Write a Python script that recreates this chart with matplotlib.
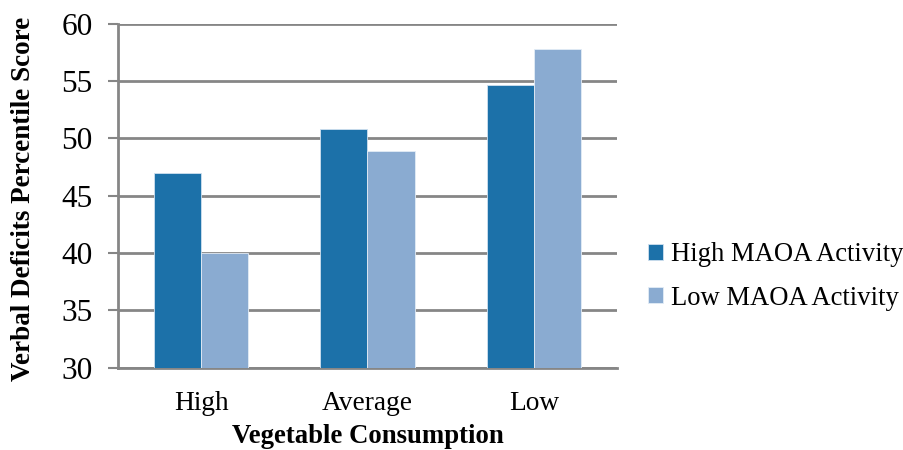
import numpy as np
import matplotlib
matplotlib.use("Agg")
import matplotlib.pyplot as plt

# Verbal deficit scores by vegetable intake and MAOA activity group
categories = ["High", "Average", "Low"]
high_maoa = [47.0, 50.8, 54.7]
low_maoa = [40.0, 48.9, 57.8]
series_names = ["High MAOA Activity", "Low MAOA Activity"]
yticks = [30, 35, 40, 45, 50, 55, 60]

plt.rcParams['font.family'] = ['Liberation Serif', 'DejaVu Serif']

dark_blue = '#1c71a9'
light_blue = '#8aabd1'
grid_gray = '#868686'

fig = plt.figure(figsize=(9.04, 4.5), dpi=100)
ax = fig.add_axes([0.1305, 0.1833, 0.552, 0.7634])

x = np.arange(len(categories))
w = 0.284
ax.bar(x - w / 2, high_maoa, w, color=dark_blue, edgecolor='#cfe0ef',
       linewidth=0.6, label=series_names[0], zorder=3)
ax.bar(x + w / 2, low_maoa, w, color=light_blue, edgecolor='#e3ecf6',
       linewidth=0.6, label=series_names[1], zorder=3)

ax.set_xlim(-0.5, 2.5)
ax.set_ylim(30, 60)
ax.set_yticks(yticks)
ax.set_xticks(x)
ax.set_xticklabels(categories, fontsize=19.7)
ax.tick_params(axis='y', labelsize=22.5, length=7.2, width=1.5, color=grid_gray, pad=11)
ax.tick_params(axis='x', length=0, pad=17)

ax.yaxis.grid(True, color=grid_gray, linewidth=2, zorder=0)
ax.set_axisbelow(True)
for side in ['top', 'right']:
    ax.spines[side].set_visible(False)
for side in ['left', 'bottom']:
    ax.spines[side].set_color(grid_gray)
    ax.spines[side].set_linewidth(2)

ax.set_xlabel("Vegetable Consumption", fontsize=19.3, fontweight='bold', labelpad=6)
ax.set_ylabel("Verbal Deficits Percentile Score", fontsize=19.5, fontweight='bold')
ax.yaxis.set_label_coords(-0.165, 0.49)

leg = ax.legend(loc='center left', bbox_to_anchor=(1.062, 0.265), frameon=False,
                fontsize=19.2, handlelength=0.55, handleheight=0.55,
                handletextpad=0.3, labelspacing=0.68, borderpad=0,
                borderaxespad=0)

fig.savefig("out.png", dpi=100)
